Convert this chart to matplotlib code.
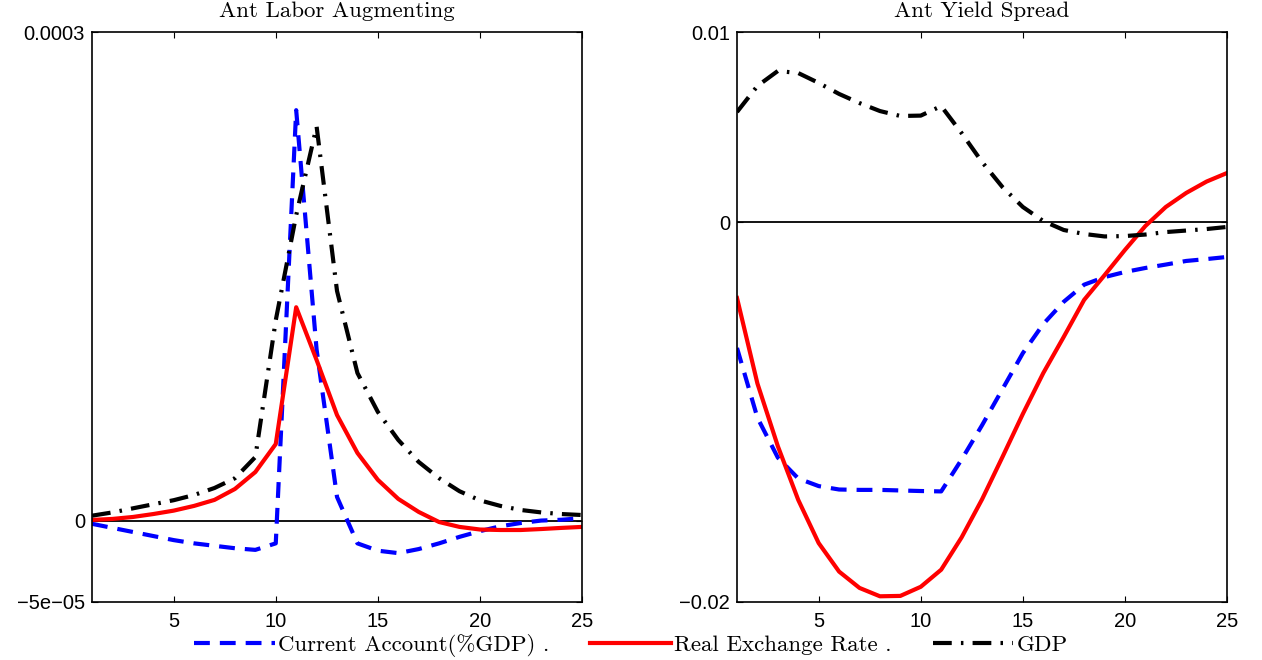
import numpy as np
import matplotlib.pyplot as plt

# horizon
periods = np.arange(1, 26)

# Ant Labor Augmenting (left panel), values in 1e-5
left_ca = [-0.2, -0.45, -0.7, -0.95, -1.2, -1.4, -1.55, -1.7, -1.8, -1.4,
           25.2, 10.5, 1.45, -1.4, -1.85, -2.0, -1.75, -1.4, -1.0, -0.65,
           -0.35, -0.15, 0.0, 0.05, 0.15]
left_rer = [0.04, 0.1, 0.22, 0.4, 0.61, 0.9, 1.27, 1.94, 2.98, 4.7,
            13.1, 9.86, 6.48, 4.15, 2.5, 1.33, 0.53, -0.09, -0.39, -0.55,
            -0.58, -0.58, -0.52, -0.45, -0.39]
left_gdp = [0.3, 0.5, 0.75, 1.0, 1.25, 1.57, 2.0, 2.6, 3.9, 12.3,
            18.75, 24.2, 14.1, 9.06, 6.67, 4.95, 3.6, 2.6, 1.8, 1.24,
            0.9, 0.65, 0.5, 0.4, 0.34]

# Ant Yield Spread (right panel), values in 1e-3
right_ca = [-6.63, -10.3, -12.4, -13.5, -13.9, -14.08, -14.1, -14.1, -14.13, -14.16,
            -14.18, -12.5, -10.7, -8.8, -6.9, -5.37, -4.2, -3.3, -2.9, -2.63,
            -2.42, -2.24, -2.05, -1.95, -1.84]
right_rer = [-4.0, -8.5, -11.8, -14.63, -16.9, -18.4, -19.26, -19.7, -19.68, -19.2,
             -18.3, -16.6, -14.6, -12.37, -10.1, -7.95, -6.05, -4.1, -2.8, -1.47,
             -0.21, 0.79, 1.53, 2.13, 2.58]
right_gdp = [5.79, 7.16, 7.95, 7.84, 7.32, 6.74, 6.26, 5.84, 5.58, 5.6,
             6.1, 4.68, 3.16, 1.84, 0.79, 0.05, -0.42, -0.63, -0.76, -0.74,
             -0.66, -0.53, -0.45, -0.37, -0.26]

titles = ['Ant Labor Augmenting', 'Ant Yield Spread']
ylims = [(-5e-5, 3e-4), (-0.02, 0.01)]
ytick_labels = [['\u22125e\u221205', '0', '0.0003'], ['\u22120.02', '0', '0.01']]
labels = ['Current Account(%GDP) .', 'Real Exchange Rate .', 'GDP']

fig = plt.figure(figsize=(12.62, 6.6), dpi=100)
ax1 = fig.add_axes([0.0729, 0.0879, 0.3883, 0.8636])
ax2 = fig.add_axes([0.584, 0.0879, 0.3883, 0.8636])

panels = [
    (ax1, np.array(left_ca) * 1e-5, np.array(left_rer) * 1e-5, np.array(left_gdp) * 1e-5),
    (ax2, np.array(right_ca) * 1e-3, np.array(right_rer) * 1e-3, np.array(right_gdp) * 1e-3),
]

handles = None
for i, (ax, ca, rer, gdp) in enumerate(panels):
    ax.axhline(0, color='black', lw=1.3, zorder=1)
    h1, = ax.plot(periods, ca, color='blue', lw=3, dashes=(3.8, 2.4), label=labels[0])
    h2, = ax.plot(periods, rer, color='red', lw=3, label=labels[1])
    h3, = ax.plot(periods, gdp, color='black', lw=3, dashes=(4.5, 2.2, 0.6, 2.2), label=labels[2])
    if handles is None:
        handles = [h1, h2, h3]
    ax.set_xlim(1, 25)
    ax.set_ylim(*ylims[i])
    ax.set_xticks([5, 10, 15, 20, 25])
    ax.set_yticks([ylims[i][0], 0, ylims[i][1]])
    ax.set_yticklabels(ytick_labels[i])
    ax.tick_params(direction='in', top=True, right=True, length=4, width=0.8,
                   labelsize=14.5)
    ax.tick_params(axis='x', pad=7)
    ax.tick_params(axis='y', pad=5)
    for lab in ax.get_xticklabels() + ax.get_yticklabels():
        lab.set_fontfamily('Liberation Sans')
    for sp in ax.spines.values():
        sp.set_linewidth(1.2)
    ax.set_title(titles[i], fontfamily='cmr10', fontsize=16.5, pad=11)

fig.legend(handles=handles, labels=labels, loc='center', bbox_to_anchor=(0.5, 0.022),
           ncol=3, frameon=False, prop={'family': 'cmr10', 'size': 16.5},
           handlelength=3.5, handletextpad=0.15, columnspacing=1.8, borderpad=0)

fig.savefig('out.png', dpi=100)
